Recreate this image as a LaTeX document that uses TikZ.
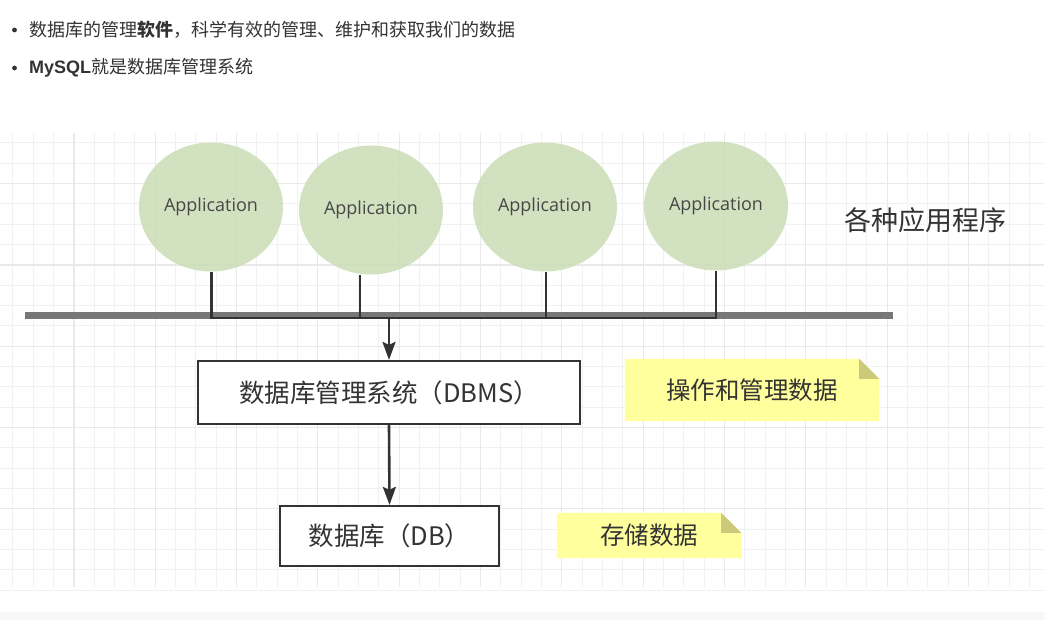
\documentclass[tikz,border=0pt]{standalone}
\usepackage{fontspec}
\setmainfont{Liberation Sans}
\newfontfamily\cjk{Noto Sans CJK SC}
\newfontfamily\appf{Open Sans}
\usetikzlibrary{shapes.geometric,arrows.meta}
\pgfdeclarelayer{gridlayer}
\pgfdeclarelayer{notelayer}
\pgfsetlayers{gridlayer,notelayer,main}
\definecolor{gridminor}{HTML}{F1F1F1}
\definecolor{gridmajor}{HTML}{E9E9E9}
\definecolor{appfill}{HTML}{CCDEB9}
\definecolor{txt}{HTML}{333333}
\definecolor{busc}{HTML}{777777}
\definecolor{notefill}{HTML}{FFFF9E}
\definecolor{foldc}{HTML}{CACA78}
\tikzset{
  minorline/.style={draw=gridminor, line width=1.1pt},
  majorline/.style={draw=gridmajor, line width=1.2pt},
  app/.style={ellipse, fill=appfill, fill opacity=0.88, text opacity=1, minimum width=144pt, minimum height=129pt, inner sep=0pt, text=txt!90, font=\appf\fontsize{18}{20}\selectfont},
  box/.style={rectangle, draw=txt, line width=2.2pt, fill=white, inner sep=0pt, text=txt, font=\cjk\fontsize{25.5}{28}\selectfont},
  note/.style={rectangle, inner sep=0pt, text=txt, font=\cjk\fontsize{24.5}{28}\selectfont},
  conn/.style={draw=txt, line width=2.4pt, line join=miter},
  arr/.style={draw=txt, line width=2.6pt, -{Stealth[length=18pt,width=13pt,inset=3pt]}},
  bus/.style={draw=busc, line width=7pt},
  toptext/.style={anchor=west, inner sep=0pt, text=txt, font=\cjk\fontsize{18}{20}\selectfont}
}
\begin{document}
\begin{tikzpicture}[x=1pt,y=-1pt]
\useasboundingbox (0,0) rectangle (1044,620);
% grid
\begin{pgfonlayer}{gridlayer}
\fill[white] (0,0) rectangle (1044,620);
\fill[black!3] (0,612) rectangle (1044,620);
\foreach \k in {0,...,51} {
  \pgfmathsetmacro\xx{12.9+20.33*\k}
  \draw[minorline] (\xx,133) -- (\xx,587);
}
\foreach \k in {0,...,22} {
  \pgfmathsetmacro\yy{142.9+20.33*\k}
  \draw[minorline] (0,\yy) -- (1044,\yy);
}
\foreach \k in {0,...,12} {
  \pgfmathsetmacro\xx{73.9+81.32*\k}
  \draw[majorline] (\xx,133) -- (\xx,587);
}
\foreach \k in {0,...,4} {
  \pgfmathsetmacro\yy{183.6+81.32*\k}
  \draw[majorline] (0,\yy) -- (1044,\yy);
}
\end{pgfonlayer}

% top bullet text
\fill[txt] (14.5,30) circle (2.4pt);
\fill[txt] (14.5,68) circle (2.4pt);
\node[toptext] (t1) at (29,30) {数据库的管理\textbf{软件}，科学有效的管理、维护和获取我们的数据};
\node[toptext] (t2) at (29,68) {{\rmfamily\bfseries\fontsize{18}{20}\selectfont MySQL}就是数据库管理系统};

% applications
\node[app] (e1) at (211,207) {Application};
\node[app] (e2) at (371,210) {Application};
\node[app] (e3) at (545,207) {Application};
\node[app] (e4) at (716,206) {Application};
\node[text=txt, inner sep=0pt, font=\cjk\fontsize{27}{30}\selectfont] (apps) at (925,220) {各种应用程序};

% bus
\coordinate (busL) at (25,316);
\coordinate (busR) at (893,316);
\draw[bus] (busL) -- (busR);

\coordinate (b1) at (211.5,318);
\coordinate (b2) at (360,318);
\coordinate (b3) at (546,318);
\coordinate (b4) at (716,318);
\coordinate (j) at (389,318);
\draw[conn] (e1.south -| b1) -- (b1) -- (b4) -- (e4.south -| b4);
\draw[conn] (e2.south -| b2) -- (b2);
\draw[conn] (e3.south -| b3) -- (b3);

% boxes
\node[box, minimum width=382pt, minimum height=63pt] (dbms) at (389,392.5) {数据库管理系统（DBMS）};
\node[box, minimum width=219pt, minimum height=60pt] (db) at (389.5,536) {数据库（DB）};
\draw[arr] (j) -- (dbms.north);
\draw[arr] (dbms.south) -- (db.north);

% notes
\node[note, minimum width=254pt, minimum height=62pt] (n1) at (752,390) {操作和管理数据};
\node[note, minimum width=184pt, minimum height=45pt] (n2) at (649,535.5) {存储数据};
\begin{pgfonlayer}{notelayer}
\foreach \n/\f in {n1/20, n2/20} {
  \fill[notefill] (\n.south west) -- (\n.north west) -- ([xshift=-\f pt]\n.north east)
     -- ([yshift=-\f pt]\n.north east) -- (\n.south east) -- cycle;
  \fill[foldc] ([xshift=-\f pt]\n.north east) -- ([yshift=-\f pt]\n.north east)
     -- ([xshift=-\f pt, yshift=-\f pt]\n.north east) -- cycle;
}
\end{pgfonlayer}
\end{tikzpicture}
\end{document}
